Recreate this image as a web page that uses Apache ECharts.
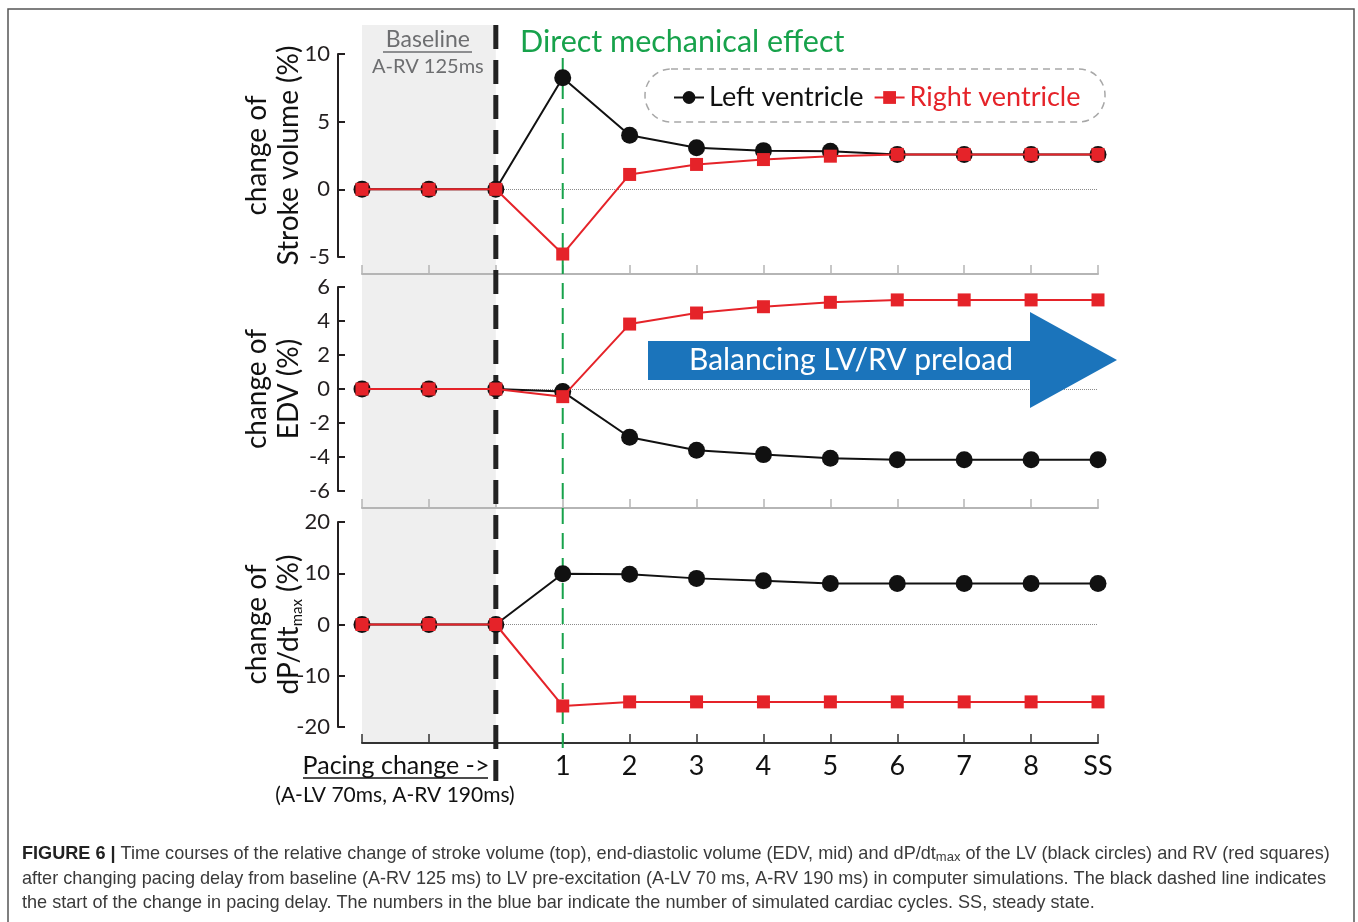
<!DOCTYPE html>
<html>
<head>
<meta charset="utf-8">
<script src="https://cdn.jsdelivr.net/npm/echarts@6/dist/echarts.min.js"></script>
<style>
html,body{margin:0;padding:0;background:#fff;}
#chart{width:1358px;height:922px;}
</style>
</head>
<body>
<div id="chart"></div>
<script>
// ---- data ----
const categories = ['B1', 'B2', 'P', '1', '2', '3', '4', '5', '6', '7', '8', 'SS'];
const hiddenLabels = ['B1', 'B2', 'P'];
const svLV = [0, 0, 0, 8.25, 3.99, 3.08, 2.86, 2.82, 2.58, 2.58, 2.58, 2.58];
const svRV = [0, 0, 0, -4.78, 1.1, 1.84, 2.2, 2.45, 2.58, 2.58, 2.58, 2.58];
const edvLV = [0, 0, 0, -0.15, -2.84, -3.6, -3.86, -4.08, -4.16, -4.16, -4.16, -4.16];
const edvRV = [0, 0, 0, -0.45, 3.82, 4.47, 4.84, 5.1, 5.24, 5.24, 5.24, 5.24];
const dpLV = [0, 0, 0, 9.9, 9.8, 9.0, 8.55, 8.0, 8.0, 8.0, 8.0, 8.0];
const dpRV = [0, 0, 0, -15.9, -15.1, -15.1, -15.1, -15.1, -15.1, -15.1, -15.1, -15.1];
const yTicks = [
  {min: -5, max: 10, interval: 5},
  {min: -6, max: 6, interval: 2},
  {min: -20, max: 20, interval: 10}
];
const baselineIndex = [0, 2];   // shaded baseline cycles
const pacingIndex = 2;          // pacing change
const directIndex = 3;          // direct mechanical effect

const FONT = 'Lato';
const BLACK = '#111';
const RED = '#e52329';
const GREEN = '#17a24b';
const BLUE = '#1b74bb';

const chart = echarts.init(document.getElementById('chart'), null, {renderer: 'canvas'});

const grids = [
  {left: 362, right: 260, top: 54, height: 203},
  {left: 362, right: 260, top: 287, height: 204},
  {left: 362, right: 260, top: 522, height: 205}
];
const xOffsets = [17, 17, 16];
const yNames = [
  'change of\nStroke volume (%)',
  'change of\nEDV (%)',
  'change of\n{n|dP/dt}{s|max}{n| (%)}'
];

const xAxes = grids.map((g, i) => ({
  type: 'category',
  gridIndex: i,
  data: categories,
  boundaryGap: false,
  position: 'bottom',
  offset: xOffsets[i],
  axisLine: {onZero: false, lineStyle: {color: i === 2 ? '#333' : '#b5b5b5', width: 2}},
  axisTick: {show: true, inside: true, length: 9, interval: 0, lineStyle: {color: i === 2 ? '#333' : '#b5b5b5', width: 1.5}},
  axisLabel: {
    show: i === 2, interval: 0, margin: 10,
    fontFamily: FONT, fontSize: 27, color: '#111',
    formatter: v => hiddenLabels.includes(v) ? '' : v
  },
  splitLine: {show: false}
}));

const yAxes = grids.map((g, i) => ({
  type: 'value',
  gridIndex: i,
  min: yTicks[i].min, max: yTicks[i].max, interval: yTicks[i].interval,
  offset: 24,
  axisLine: {show: true, lineStyle: {color: '#231f20', width: 2}},
  axisTick: {show: true, inside: true, length: 7, lineStyle: {color: '#231f20', width: 2}},
  axisLabel: {fontFamily: FONT, fontSize: 22, color: '#231f20', margin: 8},
  splitLine: {show: false},
  name: yNames[i],
  nameLocation: 'middle',
  nameRotate: 90,
  nameGap: 33,
  nameMoveOverlap: false,
  nameTextStyle: {
    fontFamily: FONT, fontSize: 28, color: '#111', lineHeight: 32,
    rich: {
      n: {fontFamily: FONT, fontSize: 28, color: '#111', lineHeight: 32},
      s: {fontFamily: FONT, fontSize: 15, color: '#111', lineHeight: 32, verticalAlign: 'bottom', padding: [12, 0, 0, 0]}
    }
  }
}));

const zeroLine = {
  silent: true, symbol: 'none', z: 1,
  label: {show: false},
  lineStyle: {type: 'dotted', color: '#8a8a8a', width: 1},
  data: [{yAxis: 0}]
};

function lvSeries(i, data) {
  return {
    name: 'Left ventricle', type: 'line', xAxisIndex: i, yAxisIndex: i,
    data: data, symbol: 'circle', symbolSize: 17, z: 3,
    lineStyle: {color: BLACK, width: 2}, itemStyle: {color: BLACK},
    markLine: zeroLine, animation: false
  };
}
function rvSeries(i, data) {
  return {
    name: 'Right ventricle', type: 'line', xAxisIndex: i, yAxisIndex: i,
    data: data, symbol: 'rect', symbolSize: 13, z: 4,
    lineStyle: {color: RED, width: 2}, itemStyle: {color: RED},
    animation: false
  };
}

const option = {
  animation: false,
  backgroundColor: '#fff',
  grid: grids,
  xAxis: xAxes,
  yAxis: yAxes,
  legend: {
    left: 668, top: 79,
    itemWidth: 30, itemHeight: 16, itemGap: 10,
    textStyle: {fontFamily: FONT, fontSize: 27},
    data: [
      {name: 'Left ventricle', textStyle: {color: BLACK}},
      {name: 'Right ventricle', textStyle: {color: RED}}
    ]
  },
  series: [
    lvSeries(0, svLV), rvSeries(0, svRV),
    lvSeries(1, edvLV), rvSeries(1, edvRV),
    lvSeries(2, dpLV), rvSeries(2, dpRV)
  ]
};
chart.setOption(option);

// ---- annotations positioned through the chart's own scales ----
const xB0 = chart.convertToPixel({xAxisIndex: 0}, baselineIndex[0]);
const xB1 = chart.convertToPixel({xAxisIndex: 0}, baselineIndex[1]);
const xP = chart.convertToPixel({xAxisIndex: 0}, pacingIndex);
const xD = chart.convertToPixel({xAxisIndex: 0}, directIndex);
const yBottomAxis = chart.convertToPixel({yAxisIndex: 2}, yTicks[2].min) + xOffsets[2];

const CAP = 18.1;
const captionStyle = {fontFamily: 'Liberation Sans', fontSize: CAP, fill: '#3a3a3a'};

chart.setOption({
  graphic: [
    // outer frame
    {type: 'rect', z: 0, shape: {x: 8, y: 9, width: 1346, height: 930},
     style: {fill: 'none', stroke: '#555', lineWidth: 1.5}},
    // baseline shading
    {type: 'rect', z: 0, shape: {x: xB0, y: 25, width: xB1 - xB0, height: yBottomAxis - 25},
     style: {fill: '#efefef'}},
    // pacing change dashed line
    {type: 'line', z: 1, shape: {x1: xP, y1: 25, x2: xP, y2: 781},
     style: {stroke: '#222', lineWidth: 5, lineDash: [24, 11]}},
    // direct effect dashed line
    {type: 'line', z: 1, shape: {x1: xD, y1: 58, x2: xD, y2: 748},
     style: {stroke: GREEN, lineWidth: 2, lineDash: [16, 9]}},
    // title texts
    {type: 'text', z: 5, left: 520, top: 27,
     style: {text: 'Direct mechanical effect', fontFamily: FONT, fontSize: 30.5, fill: GREEN}},
    {type: 'text', z: 5, x: xB0 + (xB1 - xB0) / 2 - 1, y: 40,
     style: {text: 'Baseline', fontFamily: FONT, fontSize: 23, fill: '#6d6e70', align: 'center', verticalAlign: 'middle'}},
    {type: 'line', z: 5, shape: {x1: 383, y1: 52, x2: 472, y2: 52}, style: {stroke: '#6d6e70', lineWidth: 1.5}},
    {type: 'text', z: 5, x: xB0 + (xB1 - xB0) / 2 - 1, y: 67,
     style: {text: 'A-RV 125ms', fontFamily: FONT, fontSize: 20, fill: '#6d6e70', align: 'center', verticalAlign: 'middle'}},
    // legend box
    {type: 'rect', z: 5, shape: {x: 645, y: 69, width: 460, height: 53, r: 26},
     style: {fill: 'none', stroke: '#a8a8a8', lineWidth: 1.5, lineDash: [7, 5]}},
    // blue arrow
    {type: 'polygon', z: 5,
     shape: {points: [[648, 341], [1030, 341], [1030, 312], [1117, 360], [1030, 408], [1030, 380], [648, 380]]},
     style: {fill: BLUE}},
    {type: 'text', z: 6, x: 851, y: 360,
     style: {text: 'Balancing LV/RV preload', fontFamily: FONT, fontSize: 30, fill: '#fff', align: 'center', verticalAlign: 'middle'}},
    // pacing change labels
    {type: 'text', z: 5, x: 396, y: 766,
     style: {text: 'Pacing change ->', fontFamily: FONT, fontSize: 25, fill: '#111', align: 'center', verticalAlign: 'middle'}},
    {type: 'line', z: 5, shape: {x1: 303, y1: 778, x2: 488, y2: 778}, style: {stroke: '#111', lineWidth: 1.5}},
    {type: 'text', z: 5, x: 395, y: 795,
     style: {text: '(A-LV 70ms, A-RV 190ms)', fontFamily: FONT, fontSize: 21, fill: '#111', align: 'center', verticalAlign: 'middle'}},
    // caption
    {type: 'text', z: 5, left: 22, top: 845,
     style: Object.assign({}, captionStyle, {
       text: '{b|FIGURE 6 |} Time courses of the relative change of stroke volume (top), end-diastolic volume (EDV, mid) and dP/dt{s|max} of the LV (black circles) and RV (red squares)',
       rich: {
         b: {fontFamily: 'Liberation Sans', fontSize: CAP, fontWeight: 'bold', fill: '#222'},
         s: {fontFamily: 'Liberation Sans', fontSize: 13, fill: '#3a3a3a', verticalAlign: 'bottom', padding: [7, 0, 0, 0]}
       }
     })},
    {type: 'text', z: 5, left: 22, top: 870,
     style: Object.assign({}, captionStyle, {
       text: 'after changing pacing delay from baseline (A-RV 125 ms) to LV pre-excitation (A-LV 70 ms, A-RV 190 ms) in computer simulations. The black dashed line indicates'
     })},
    {type: 'text', z: 5, left: 22, top: 894,
     style: Object.assign({}, captionStyle, {
       text: 'the start of the change in pacing delay. The numbers in the blue bar indicate the number of simulated cardiac cycles. SS, steady state.'
     })}
  ]
});
</script>
</body>
</html>
